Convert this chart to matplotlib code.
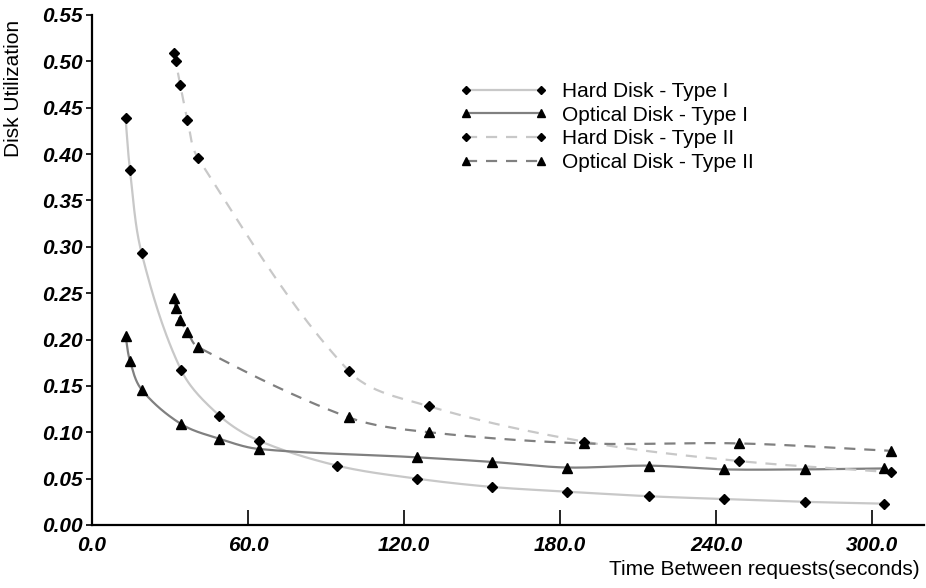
import matplotlib
matplotlib.use("Agg")
import matplotlib.pyplot as plt
import numpy as np
from matplotlib.ticker import FormatStrFormatter

# series
hd1_x = [12.9, 14.6, 19.1, 34.3, 49.0, 64.2, 94.3, 124.9, 154.0, 182.5, 214.4, 242.9, 274.1, 304.7]
hd1_y = [0.439, 0.383, 0.293, 0.167, 0.118, 0.091, 0.064, 0.050, 0.041, 0.036, 0.031, 0.028, 0.025, 0.023]

od1_x = [12.9, 14.6, 19.1, 34.2, 49.0, 64.2, 124.9, 154.0, 182.5, 214.4, 242.9, 274.1, 304.7]
od1_y = [0.204, 0.177, 0.146, 0.109, 0.093, 0.082, 0.073, 0.068, 0.062, 0.064, 0.060, 0.060, 0.061]

hd2_x = [31.6, 32.2, 33.9, 36.7, 40.7, 98.8, 129.7, 189.1, 248.8, 307.2]
hd2_y = [0.509, 0.500, 0.475, 0.437, 0.396, 0.166, 0.128, 0.090, 0.069, 0.057]

od2_x = [31.6, 32.2, 33.9, 36.7, 40.7, 98.8, 129.7, 189.1, 248.8, 307.2]
od2_y = [0.245, 0.234, 0.221, 0.208, 0.192, 0.116, 0.100, 0.088, 0.088, 0.080]

labels = ['Hard Disk - Type I', 'Optical Disk - Type I',
          'Hard Disk - Type II', 'Optical Disk - Type II']

x_ticks = [0, 60, 120, 180, 240, 300]
y_ticks = np.arange(0, 0.551, 0.05)

XMAX, YMAX = 320, 0.55


# smoothed line through the points (bezier, tangents scaled by segment length, screen-ish units)
def smooth(x, y, n=30):
    sx, sy = 832 / XMAX, 510 / YMAX
    p = np.column_stack([np.asarray(x) * sx, np.asarray(y) * sy])
    m = len(p)
    tang = np.zeros_like(p)
    for i in range(m):
        a = p[max(i - 1, 0)]
        b = p[min(i + 1, m - 1)]
        d = b - a
        tang[i] = d / (np.linalg.norm(d) + 1e-9)
    out = []
    t = np.linspace(0, 1, n)[:, None]
    for i in range(m - 1):
        p1, p2 = p[i], p[i + 1]
        L = np.linalg.norm(p2 - p1) / 3
        c1 = p1 + tang[i] * L
        c2 = p2 - tang[i + 1] * L
        seg = ((1 - t) ** 3) * p1 + 3 * ((1 - t) ** 2) * t * c1 + 3 * (1 - t) * t ** 2 * c2 + t ** 3 * p2
        out.append(seg)
    out = np.vstack(out)
    return out[:, 0] / sx, out[:, 1] / sy


plt.rcParams['font.family'] = ['Liberation Sans', 'DejaVu Sans']

fig = plt.figure(figsize=(9.26, 5.88), dpi=100)
ax = fig.add_axes([92 / 926, 63 / 588, 832 / 926, 510 / 588])

light = '#c8c8c8'
dark = '#808080'
series = [
    (hd1_x, hd1_y, light, '-', 'D', 5.0),
    (od1_x, od1_y, dark, '-', '^', 7.0),
    (hd2_x, hd2_y, light, (0, (5, 4)), 'D', 5.0),
    (od2_x, od2_y, dark, (0, (5, 4)), '^', 7.0),
]

handles = []
for (xs, ys, col, ls, mk, ms), lab in zip(series, labels):
    cx, cy = smooth(xs, ys)
    ax.plot(cx, cy, color=col, linestyle=ls, linewidth=1.6, zorder=2)
    ax.plot(xs, ys, linestyle='none', marker=mk, markersize=ms,
            color='black', zorder=3)
    h, = ax.plot([], [], color=col, linestyle=ls, linewidth=1.6, marker=mk,
                 markersize=ms, markerfacecolor='black', markeredgecolor='black')
    handles.append(h)

ax.set_xlim(0, XMAX)
ax.set_ylim(0, YMAX)
ax.set_xticks(x_ticks)
ax.set_yticks(y_ticks)
ax.xaxis.set_major_formatter(FormatStrFormatter('%.1f'))
ax.yaxis.set_major_formatter(FormatStrFormatter('%.2f'))

for lab in ax.get_xticklabels() + ax.get_yticklabels():
    lab.set_fontweight('bold')
    lab.set_fontstyle('italic')
    lab.set_fontsize(15)

ax.tick_params(axis='x', direction='in', length=11, width=1.2, pad=8)
ax.tick_params(axis='y', direction='out', length=4.5, width=1.2, pad=2)

for s in ['top', 'right']:
    ax.spines[s].set_visible(False)
for s in ['left', 'bottom']:
    ax.spines[s].set_linewidth(1.6)

ax.set_ylabel('Disk Utilization', fontsize=15, loc='top')
ax.yaxis.set_label_coords(-0.083, 0.99)
ax.set_xlabel('Time Between requests(seconds)', fontsize=15, loc='right')
ax.xaxis.set_label_coords(0.995, -0.068)

leg = ax.legend(handles, labels, loc='upper left', bbox_to_anchor=(0.42, 0.905),
                frameon=False, fontsize=15, numpoints=2, markerscale=0.75,
                handlelength=4.2, handletextpad=0.7, labelspacing=0.22)

fig.savefig('out.png', dpi=100)
